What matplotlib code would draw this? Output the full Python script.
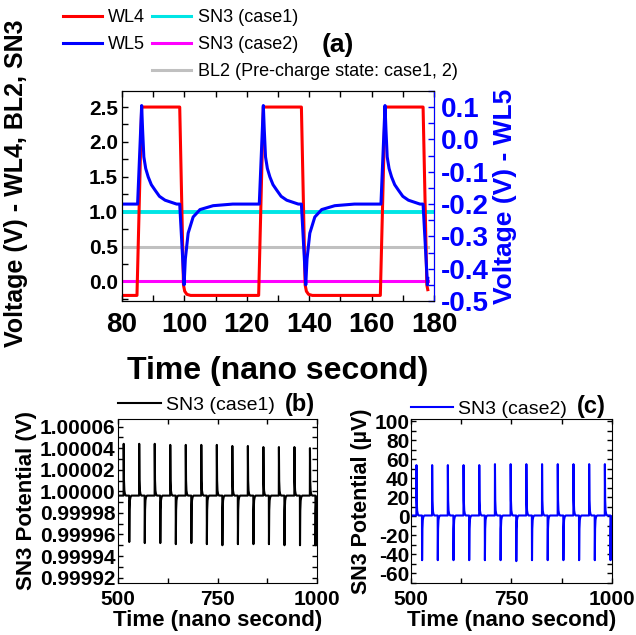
import numpy as np
import matplotlib
matplotlib.use("Agg")
import matplotlib.pyplot as plt
from matplotlib.lines import Line2D
from matplotlib.ticker import MultipleLocator, FormatStrFormatter

plt.rcParams['font.family'] = ['Liberation Sans', 'DejaVu Sans']
plt.rcParams['axes.unicode_minus'] = False

# ---- (a) waveforms, times in ns ----
wl4_rise_t = [84.8, 123.8, 162.8]
wl4_fall_t = [98.5, 137.5, 176.5]
wl4_rise_dt = [0.0, 1.5]
wl4_rise_v = [-0.2, 2.5]
wl4_fall_dt = [0.0, 1.2, 1.6, 2.3, 3.5]
wl4_fall_v = [2.5, -0.05, -0.14, -0.185, -0.2]

wl5_rise_t = [85.0, 124.0, 163.0]
wl5_fall_t = [98.5, 137.5, 176.5]
wl5_rise_dt = [0.0, 1.3, 1.6, 2.0, 2.6, 3.4, 4.4, 5.6, 7.0, 8.8, 12.5]
wl5_rise_v = [-0.2, 0.105, 0.03, -0.054, -0.09, -0.116, -0.14, -0.157, -0.176, -0.188, -0.2]
wl5_fall_dt = [0.0, 1.4, 1.8, 2.7, 4.3, 6.5, 10.7, 17.0]
wl5_fall_v = [-0.2, -0.45, -0.37, -0.29, -0.24, -0.217, -0.205, -0.2]

t_start, t_end = 80.0, 178.0
sn3_case1 = 1.0
sn3_case2 = 0.0
bl2 = 0.5

# ---- (b) SN3 case1, (c) SN3 case2 ----
pos_t = [514, 553, 592, 631, 670, 709, 748, 787, 826, 865, 904, 943, 982]
neg_t = [528, 567, 606, 645, 684, 723, 762, 801, 840, 879, 918, 957, 996]
b_base = 0.999996
b_pos_v = [1.000044, 1.000044, 1.000044, 1.000043, 1.000043, 1.000043, 1.000043,
           1.000042, 1.000042, 1.000041, 1.000041, 1.000041, 1.000040]
b_neg_v = [0.999953, 0.999952, 0.999952, 0.999951, 0.999952, 0.999951, 0.999950,
           0.999951, 0.999951, 0.999951, 0.999950, 0.999950, 0.999950]
c_base = 1.0
c_pos_v = [54, 54, 54, 54, 54, 55, 55, 55, 55, 55, 55, 55, 55]
c_neg_v = [-46, -46, -46, -46, -46, -46, -47, -46, -46, -46, -46, -46, -46]
# spike shape (fraction of amplitude vs ns after the edge)
spike_dt = [0.0, 0.3, 1.0, 2.0, 3.5, 6.0]
spike_frac = [0.0, 1.0, 0.3, 0.1, 0.03, 0.0]


def build_wave(start, end, base, edges):
    t = [start]
    v = [base]
    for t0, dts, vs in sorted(edges, key=lambda e: e[0]):
        for dt, val in zip(dts, vs):
            t.append(t0 + dt)
            v.append(val)
    t = np.array(t)
    v = np.array(v)
    keep = t <= end
    return np.append(t[keep], end), np.append(v[keep], np.interp(end, t, v))


def build_spikes(base, pos_v, neg_v):
    edges = []
    for t0, pk in zip(pos_t, pos_v):
        edges.append((t0, spike_dt, [base + f * (pk - base) for f in spike_frac]))
    for t0, pk in zip(neg_t, neg_v):
        edges.append((t0, spike_dt, [base + f * (pk - base) for f in spike_frac]))
    return build_wave(500, 1000, base, edges)


wl4_t, wl4_v = build_wave(t_start, t_end, -0.2,
                          [(r, wl4_rise_dt, wl4_rise_v) for r in wl4_rise_t] +
                          [(f, wl4_fall_dt, wl4_fall_v) for f in wl4_fall_t])
wl5_t, wl5_v = build_wave(t_start, t_end, -0.2,
                          [(r, wl5_rise_dt, wl5_rise_v) for r in wl5_rise_t] +
                          [(f, wl5_fall_dt, wl5_fall_v) for f in wl5_fall_t])
b_t, b_v = build_spikes(b_base, b_pos_v, b_neg_v)
c_t, c_v = build_spikes(c_base, c_pos_v, c_neg_v)

fig = plt.figure(figsize=(6.36, 6.35), dpi=100)
W, H = 636.0, 635.0

# ---------------- (a) ----------------
ax = fig.add_axes([122 / W, 1 - 301 / H, 312 / W, 210 / H])
ax.plot([t_start, t_end], [bl2, bl2], color='#c0c0c0', lw=2.2)
ax.plot([t_start, 180], [sn3_case1, sn3_case1], color='#00e5e5', lw=2.8)
ax.plot([t_start, t_end], [sn3_case2, sn3_case2], color='#ff00ff', lw=2.2)
ax.plot(wl4_t, wl4_v, color='#ff0000', lw=2.2)
ax.set_xlim(80, 180)
ax.set_ylim(-0.28, 2.73)
ax.xaxis.set_major_locator(MultipleLocator(20))
ax.xaxis.set_minor_locator(MultipleLocator(10))
ax.yaxis.set_major_locator(MultipleLocator(0.5))
ax.yaxis.set_minor_locator(MultipleLocator(0.25))
ax.tick_params(axis='x', which='both', direction='in', top=True, length=4, width=1, pad=8, labelsize=20)
ax.tick_params(axis='y', which='both', direction='in', length=4, width=1, pad=3, labelsize=15)
for lab in ax.get_xticklabels() + ax.get_yticklabels():
    lab.set_fontweight('bold')
ax.set_xlabel('Time (nano second)', fontsize=23, fontweight='bold', labelpad=13)
ax.set_ylabel('Voltage (V) - WL4, BL2, SN3', fontsize=18, fontweight='bold')
ax.yaxis.set_label_coords(-0.30, 0.56)

ax2 = ax.twinx()
ax2.plot(wl5_t, wl5_v, color='#0000ff', lw=2.2)
ax2.set_ylim(-0.5, 0.15)
ax2.yaxis.set_major_locator(MultipleLocator(0.1))
ax2.yaxis.set_minor_locator(MultipleLocator(0.05))
ax2.tick_params(axis='y', which='both', direction='in', length=4, width=1, pad=5,
                labelsize=20, colors='#0000ff')
ax2.spines['right'].set_color('#0000ff')
for lab in ax2.get_yticklabels():
    lab.set_fontweight('bold')
ax2.set_ylabel('Voltage (V) - WL5', fontsize=19, fontweight='bold', color='#0000ff', labelpad=3)

handles = [Line2D([], [], color='#ff0000', lw=2.2),
           Line2D([], [], color='#0000ff', lw=2.2),
           Line2D([], [], color='none'),
           Line2D([], [], color='#00e5e5', lw=2.2),
           Line2D([], [], color='#ff00ff', lw=2.2),
           Line2D([], [], color='#c0c0c0', lw=2.2)]
labels = ['WL4', 'WL5', ' ', 'SN3 (case1)', 'SN3 (case2)', 'BL2 (Pre-charge state: case1, 2)']
fig.legend(handles, labels, ncol=2, loc='upper left', bbox_to_anchor=(63 / W, 1 - 9 / H),
           frameon=False, fontsize=13, handlelength=2.15, handletextpad=0.35,
           columnspacing=0.4, labelspacing=0.55, borderpad=0, borderaxespad=0)
fig.text(338 / W, 1 - 45 / H, '(a)', fontsize=19, fontweight='bold', ha='center', va='center')

# ---------------- (b) ----------------
axb = fig.add_axes([118 / W, 1 - 583 / H, 199 / W, 164 / H])
axb.plot(b_t, b_v, color='black', lw=1.5, label='SN3 (case1)')
axb.set_xlim(500, 1000)
axb.set_ylim(0.999915, 1.000067)
axb.xaxis.set_major_locator(MultipleLocator(250))
axb.xaxis.set_minor_locator(MultipleLocator(125))
axb.yaxis.set_major_locator(MultipleLocator(0.00002))
axb.yaxis.set_minor_locator(MultipleLocator(0.00001))
axb.yaxis.set_major_formatter(FormatStrFormatter('%.5f'))
axb.tick_params(axis='both', which='both', direction='in', top=True, right=True, length=3.5, width=1)
axb.tick_params(axis='x', pad=5, labelsize=15)
axb.tick_params(axis='y', pad=2, labelsize=15)
for lab in axb.get_xticklabels() + axb.get_yticklabels():
    lab.set_fontweight('bold')
axb.set_xlabel('Time (nano second)', fontsize=16, fontweight='bold', labelpad=1)
axb.set_ylabel('SN3 Potential (V)', fontsize=16, fontweight='bold', labelpad=2)
axb.legend(loc='center left', bbox_to_anchor=(0.0, 1.085), frameon=False, fontsize=14,
           handlelength=2.2, handletextpad=0.25, borderpad=0, borderaxespad=0)
fig.text(300 / W, 1 - 405 / H, '(b)', fontsize=17, fontweight='bold', ha='center', va='center')

# ---------------- (c) ----------------
axc = fig.add_axes([410.7 / W, 1 - 583 / H, 201.3 / W, 164 / H])
axc.plot(c_t, c_v, color='#0000ff', lw=1.5, label='SN3 (case2)')
axc.set_xlim(500, 1000)
axc.set_ylim(-70, 102.5)
axc.xaxis.set_major_locator(MultipleLocator(250))
axc.xaxis.set_minor_locator(MultipleLocator(125))
axc.yaxis.set_major_locator(MultipleLocator(20))
axc.yaxis.set_minor_locator(MultipleLocator(10))
axc.tick_params(axis='both', which='both', direction='in', top=True, right=True, length=3.5, width=1)
axc.tick_params(axis='x', pad=5, labelsize=15)
axc.tick_params(axis='y', pad=1, labelsize=15)
for lab in axc.get_xticklabels() + axc.get_yticklabels():
    lab.set_fontweight('bold')
axc.set_xlabel('Time (nano second)', fontsize=16, fontweight='bold', labelpad=1)
axc.set_ylabel('SN3 Potential (µV)', fontsize=15.5, fontweight='bold', labelpad=2)
axc.legend(loc='center left', bbox_to_anchor=(0.0, 1.06), frameon=False, fontsize=14,
           handlelength=2.2, handletextpad=0.25, borderpad=0, borderaxespad=0)
fig.text(591 / W, 1 - 406 / H, '(c)', fontsize=17, fontweight='bold', ha='center', va='center')

fig.savefig('out.png', dpi=100)
